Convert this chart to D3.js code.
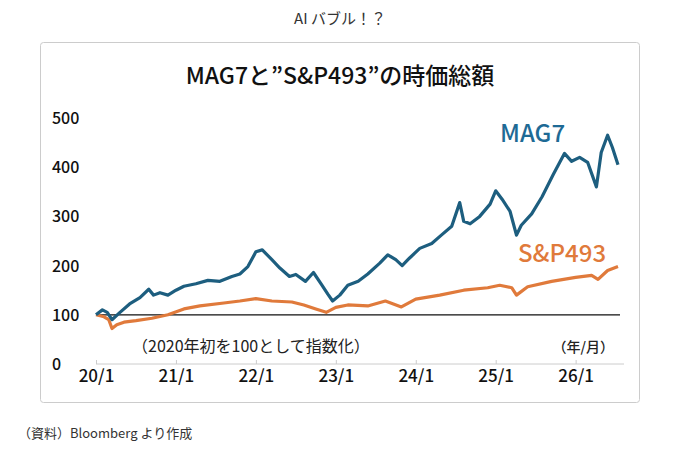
<!DOCTYPE html>
<html>
<head>
<meta charset="utf-8">
<script src="https://cdn.jsdelivr.net/npm/d3@7"></script>
<style>
  body { margin: 0; background: #fff; }
  text { font-family: "Noto Sans CJK JP", "Noto Sans", sans-serif; }
</style>
</head>
<body>
<svg width="680" height="454"></svg>
<script>
// time in years since 2020/1, value indexed to 100 at 2020 start
var mag7T = [0, 0.08, 0.14, 0.2, 0.3, 0.42, 0.55, 0.66, 0.72, 0.8, 0.9, 1.0, 1.1, 1.25, 1.4, 1.55, 1.7, 1.8, 1.9, 2.0, 2.08, 2.2, 2.3, 2.42, 2.5, 2.62, 2.72, 2.82, 2.9, 2.96, 3.05, 3.15, 3.28, 3.4, 3.55, 3.65, 3.75, 3.83, 3.92, 4.05, 4.2, 4.32, 4.45, 4.55, 4.6, 4.68, 4.8, 4.93, 5.0, 5.08, 5.18, 5.26, 5.32, 5.45, 5.58, 5.72, 5.86, 5.95, 6.05, 6.15, 6.26, 6.32, 6.4, 6.46, 6.53];
var mag7V = [100, 110, 105, 90, 105, 122, 135, 152, 140, 145, 140, 150, 158, 163, 170, 168, 178, 183, 198, 228, 232, 212, 195, 178, 182, 168, 186, 162, 142, 128, 140, 160, 168, 183, 205, 222, 212, 200, 215, 235, 245, 262, 280, 328, 290, 285, 300, 325, 352, 335, 310, 262, 282, 305, 340, 385, 428, 412, 420, 410, 360, 430, 465, 440, 405];
var s493T = [0, 0.1, 0.16, 0.2, 0.26, 0.35, 0.5, 0.7, 0.9, 1.1, 1.3, 1.6, 1.8, 2.0, 2.2, 2.45, 2.6, 2.75, 2.88, 3.0, 3.15, 3.4, 3.62, 3.82, 4.0, 4.3, 4.6, 4.9, 5.05, 5.2, 5.26, 5.4, 5.7, 6.0, 6.2, 6.28, 6.4, 6.53];
var s493V = [100, 96, 90, 72, 80, 85, 88, 93, 100, 112, 118, 124, 128, 133, 128, 126, 120, 112, 105, 115, 120, 118, 128, 116, 132, 140, 150, 155, 160, 155, 140, 157, 168, 176, 180, 172, 190, 198];
var yTicks = [0, 100, 200, 300, 400, 500];
var xTicks = [0, 1, 2, 3, 4, 5, 6];
var xLabels = ["20/1", "21/1", "22/1", "23/1", "24/1", "25/1", "26/1"];

var svg = d3.select("svg");
var blue = "#1d5e7f", orange = "#e07a3b";

var x = d3.scaleLinear().domain([0, 6.53]).range([96, 618]);
var y = d3.scaleLinear().domain([0, 500]).range([364, 118]);

svg.append("text").attr("x", 340).attr("y", 24).attr("text-anchor", "middle")
  .attr("font-size", 15).attr("fill", "#333").text("AI バブル！？");

svg.append("rect").attr("x", 40.5).attr("y", 42.5).attr("width", 599).attr("height", 360)
  .attr("rx", 3).attr("fill", "#fff").attr("stroke", "#ccc");

svg.append("text").attr("x", 340).attr("y", 84).attr("text-anchor", "middle")
  .attr("font-size", 23).attr("font-weight", 500).attr("fill", "#111").text("MAG7と”S&P493”の時価総額");

// y labels
svg.selectAll(".yl").data(yTicks).enter().append("text")
  .attr("x", 52).attr("y", function(d) { return y(d) + 6; })
  .attr("font-size", 16).attr("font-weight", 500).attr("fill", "#111").text(function(d) { return d; });

// x axis
var xAxis = svg.append("g").attr("transform", "translate(0," + y(0) + ")")
  .call(d3.axisBottom(x).tickValues(xTicks).tickSize(-4).tickFormat(function(d, i) { return xLabels[i]; }));
xAxis.select(".domain").attr("stroke", "#ccc").attr("d", "M" + x(0) + ",0H624");
xAxis.selectAll(".tick line").attr("stroke", "#ccc");
xAxis.selectAll(".tick text").attr("font-size", 17).attr("font-weight", 500).attr("fill", "#111").attr("dy", "0.9em")
  .style("font-family", '"Noto Sans CJK JP", sans-serif');

// baseline at 100
svg.append("line").attr("x1", x(0)).attr("x2", 620).attr("y1", y(100)).attr("y2", y(100))
  .attr("stroke", "#111").attr("stroke-width", 1.2);

var line = d3.line().x(function(d) { return x(d[0]); }).y(function(d) { return y(d[1]); });
svg.append("path").datum(d3.zip(s493T, s493V)).attr("d", line)
  .attr("fill", "none").attr("stroke", orange).attr("stroke-width", 3.2).attr("stroke-linejoin", "round");
svg.append("path").datum(d3.zip(mag7T, mag7V)).attr("d", line)
  .attr("fill", "none").attr("stroke", blue).attr("stroke-width", 3.2).attr("stroke-linejoin", "round");

svg.append("text").attr("x", 500).attr("y", 142).attr("font-size", 24).attr("font-weight", 500).attr("fill", "#1e6a95").text("MAG7");
svg.append("text").attr("x", 518).attr("y", 262).attr("font-size", 24).attr("font-weight", 500).attr("fill", orange).text("S&P493");

svg.append("text").attr("x", 132).attr("y", 352).attr("font-size", 16).attr("fill", "#222").text("（2020年初を100として指数化）");
svg.append("text").attr("x", 614).attr("y", 352).attr("text-anchor", "end").attr("font-size", 14).attr("font-weight", 500).attr("fill", "#222").text("（年/月）");

svg.append("text").attr("x", 18).attr("y", 438).attr("font-size", 13).attr("fill", "#333").text("（資料）Bloomberg より作成");
</script>
</body>
</html>
